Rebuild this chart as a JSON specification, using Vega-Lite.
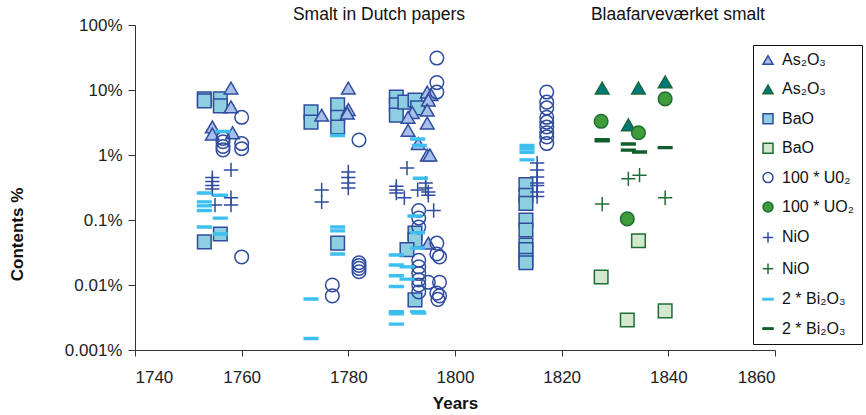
{
  "$schema": "https://vega.github.io/schema/vega-lite/v6.json",
  "width": 640,
  "height": 325,
  "autosize": {"type": "none"},
  "padding": {"left": 135, "top": 25, "right": 91, "bottom": 65},
  "background": "white",
  "config": {
    "view": {"stroke": null},
    "font": "Liberation Sans",
    "axis": {
      "grid": false,
      "domainColor": "#333",
      "tickColor": "#333",
      "labelColor": "#222",
      "titleColor": "#111",
      "labelFont": "Liberation Sans",
      "titleFont": "Liberation Sans",
      "labelFontSize": 17,
      "titleFontSize": 17,
      "titleFontWeight": "bold",
      "tickSize": 6
    }
  },
  "datasets": {
    "contents": [
      {"series": "BaO (Dutch papers)", "year": 1753, "pct": 7.3},
      {"series": "BaO (Dutch papers)", "year": 1753, "pct": 6.8},
      {"series": "BaO (Dutch papers)", "year": 1753, "pct": 0.046},
      {"series": "BaO (Dutch papers)", "year": 1756, "pct": 7.3},
      {"series": "BaO (Dutch papers)", "year": 1756, "pct": 5.7},
      {"series": "BaO (Dutch papers)", "year": 1756, "pct": 0.061},
      {"series": "BaO (Dutch papers)", "year": 1773, "pct": 4.6},
      {"series": "BaO (Dutch papers)", "year": 1773, "pct": 3.2},
      {"series": "BaO (Dutch papers)", "year": 1778, "pct": 5.9},
      {"series": "BaO (Dutch papers)", "year": 1778, "pct": 3.8},
      {"series": "BaO (Dutch papers)", "year": 1778, "pct": 2.7},
      {"series": "BaO (Dutch papers)", "year": 1778, "pct": 0.044},
      {"series": "BaO (Dutch papers)", "year": 1789, "pct": 7.8},
      {"series": "BaO (Dutch papers)", "year": 1789, "pct": 5.9},
      {"series": "BaO (Dutch papers)", "year": 1789, "pct": 4.1},
      {"series": "BaO (Dutch papers)", "year": 1790.6, "pct": 6.5},
      {"series": "BaO (Dutch papers)", "year": 1792.5, "pct": 7.0},
      {"series": "BaO (Dutch papers)", "year": 1793, "pct": 5.3},
      {"series": "BaO (Dutch papers)", "year": 1792.5, "pct": 0.063},
      {"series": "BaO (Dutch papers)", "year": 1792.5, "pct": 0.049},
      {"series": "BaO (Dutch papers)", "year": 1791, "pct": 0.035},
      {"series": "BaO (Dutch papers)", "year": 1792.5, "pct": 0.0059},
      {"series": "BaO (Dutch papers)", "year": 1813.3, "pct": 0.35},
      {"series": "BaO (Dutch papers)", "year": 1813.3, "pct": 0.24},
      {"series": "BaO (Dutch papers)", "year": 1813.3, "pct": 0.18},
      {"series": "BaO (Dutch papers)", "year": 1813.3, "pct": 0.1},
      {"series": "BaO (Dutch papers)", "year": 1813.3, "pct": 0.07},
      {"series": "BaO (Dutch papers)", "year": 1813.3, "pct": 0.041},
      {"series": "BaO (Dutch papers)", "year": 1813.3, "pct": 0.035},
      {"series": "BaO (Dutch papers)", "year": 1813.3, "pct": 0.024},
      {"series": "BaO (Dutch papers)", "year": 1813.3, "pct": 0.022},
      {"series": "BaO (Blaafarveværket)", "year": 1827.4, "pct": 0.0133},
      {"series": "BaO (Blaafarveværket)", "year": 1832.3, "pct": 0.0029},
      {"series": "BaO (Blaafarveværket)", "year": 1834.4, "pct": 0.048},
      {"series": "BaO (Blaafarveværket)", "year": 1839.4, "pct": 0.004},
      {"series": "As₂O₃ (Dutch papers)", "year": 1758, "pct": 10.7},
      {"series": "As₂O₃ (Dutch papers)", "year": 1758, "pct": 5.5},
      {"series": "As₂O₃ (Dutch papers)", "year": 1754.5, "pct": 2.7},
      {"series": "As₂O₃ (Dutch papers)", "year": 1754.5, "pct": 2.1},
      {"series": "As₂O₃ (Dutch papers)", "year": 1758.3, "pct": 2.2},
      {"series": "As₂O₃ (Dutch papers)", "year": 1775, "pct": 4.1},
      {"series": "As₂O₃ (Dutch papers)", "year": 1780, "pct": 10.7},
      {"series": "As₂O₃ (Dutch papers)", "year": 1780, "pct": 5.0},
      {"series": "As₂O₃ (Dutch papers)", "year": 1779.8, "pct": 4.4},
      {"series": "As₂O₃ (Dutch papers)", "year": 1794.8, "pct": 9.3},
      {"series": "As₂O₃ (Dutch papers)", "year": 1795.5, "pct": 8.5},
      {"series": "As₂O₃ (Dutch papers)", "year": 1795, "pct": 7.0},
      {"series": "As₂O₃ (Dutch papers)", "year": 1794.8, "pct": 4.9},
      {"series": "As₂O₃ (Dutch papers)", "year": 1792, "pct": 4.5},
      {"series": "As₂O₃ (Dutch papers)", "year": 1791.2, "pct": 3.8},
      {"series": "As₂O₃ (Dutch papers)", "year": 1794.8, "pct": 3.1},
      {"series": "As₂O₃ (Dutch papers)", "year": 1791.2, "pct": 2.4},
      {"series": "As₂O₃ (Dutch papers)", "year": 1793.1, "pct": 1.5},
      {"series": "As₂O₃ (Dutch papers)", "year": 1794.8, "pct": 1.0},
      {"series": "As₂O₃ (Dutch papers)", "year": 1795.3, "pct": 1.0},
      {"series": "As₂O₃ (Dutch papers)", "year": 1795, "pct": 0.044},
      {"series": "As₂O₃ (Blaafarveværket)", "year": 1827.6, "pct": 10.7},
      {"series": "As₂O₃ (Blaafarveværket)", "year": 1832.5, "pct": 2.9},
      {"series": "As₂O₃ (Blaafarveværket)", "year": 1834.4, "pct": 10.7},
      {"series": "As₂O₃ (Blaafarveværket)", "year": 1839.4, "pct": 13.3},
      {"series": "100 * U0₂ (Dutch papers)", "year": 1760, "pct": 3.8},
      {"series": "100 * U0₂ (Dutch papers)", "year": 1756.5, "pct": 1.8},
      {"series": "100 * U0₂ (Dutch papers)", "year": 1756.5, "pct": 1.6},
      {"series": "100 * U0₂ (Dutch papers)", "year": 1756.5, "pct": 1.35},
      {"series": "100 * U0₂ (Dutch papers)", "year": 1756.5, "pct": 1.2},
      {"series": "100 * U0₂ (Dutch papers)", "year": 1760, "pct": 1.5},
      {"series": "100 * U0₂ (Dutch papers)", "year": 1760, "pct": 1.25},
      {"series": "100 * U0₂ (Dutch papers)", "year": 1760, "pct": 0.027},
      {"series": "100 * U0₂ (Dutch papers)", "year": 1782, "pct": 1.7},
      {"series": "100 * U0₂ (Dutch papers)", "year": 1782, "pct": 0.022},
      {"series": "100 * U0₂ (Dutch papers)", "year": 1782, "pct": 0.02},
      {"series": "100 * U0₂ (Dutch papers)", "year": 1782, "pct": 0.018},
      {"series": "100 * U0₂ (Dutch papers)", "year": 1782, "pct": 0.016},
      {"series": "100 * U0₂ (Dutch papers)", "year": 1777, "pct": 0.01},
      {"series": "100 * U0₂ (Dutch papers)", "year": 1777, "pct": 0.0068},
      {"series": "100 * U0₂ (Dutch papers)", "year": 1796.6, "pct": 31},
      {"series": "100 * U0₂ (Dutch papers)", "year": 1796.6, "pct": 13},
      {"series": "100 * U0₂ (Dutch papers)", "year": 1796.6, "pct": 9.3},
      {"series": "100 * U0₂ (Dutch papers)", "year": 1793.2, "pct": 0.14},
      {"series": "100 * U0₂ (Dutch papers)", "year": 1793.2, "pct": 0.107},
      {"series": "100 * U0₂ (Dutch papers)", "year": 1793.2, "pct": 0.078},
      {"series": "100 * U0₂ (Dutch papers)", "year": 1793.2, "pct": 0.024},
      {"series": "100 * U0₂ (Dutch papers)", "year": 1793.2, "pct": 0.019},
      {"series": "100 * U0₂ (Dutch papers)", "year": 1793.2, "pct": 0.015},
      {"series": "100 * U0₂ (Dutch papers)", "year": 1793.2, "pct": 0.012},
      {"series": "100 * U0₂ (Dutch papers)", "year": 1793.2, "pct": 0.01},
      {"series": "100 * U0₂ (Dutch papers)", "year": 1793.2, "pct": 0.0078},
      {"series": "100 * U0₂ (Dutch papers)", "year": 1796.6, "pct": 0.044},
      {"series": "100 * U0₂ (Dutch papers)", "year": 1796.6, "pct": 0.03},
      {"series": "100 * U0₂ (Dutch papers)", "year": 1797.1, "pct": 0.027},
      {"series": "100 * U0₂ (Dutch papers)", "year": 1795, "pct": 0.011},
      {"series": "100 * U0₂ (Dutch papers)", "year": 1797.1, "pct": 0.011},
      {"series": "100 * U0₂ (Dutch papers)", "year": 1796.6, "pct": 0.0075},
      {"series": "100 * U0₂ (Dutch papers)", "year": 1797.1, "pct": 0.0068},
      {"series": "100 * U0₂ (Dutch papers)", "year": 1796.8, "pct": 0.006},
      {"series": "100 * U0₂ (Dutch papers)", "year": 1817.2, "pct": 9.3},
      {"series": "100 * U0₂ (Dutch papers)", "year": 1817.2, "pct": 6.5},
      {"series": "100 * U0₂ (Dutch papers)", "year": 1817.2, "pct": 5.3},
      {"series": "100 * U0₂ (Dutch papers)", "year": 1817.2, "pct": 3.8},
      {"series": "100 * U0₂ (Dutch papers)", "year": 1817.2, "pct": 3.2},
      {"series": "100 * U0₂ (Dutch papers)", "year": 1817.2, "pct": 2.7},
      {"series": "100 * U0₂ (Dutch papers)", "year": 1817.2, "pct": 2.2},
      {"series": "100 * U0₂ (Dutch papers)", "year": 1817.2, "pct": 1.9},
      {"series": "100 * U0₂ (Dutch papers)", "year": 1817.2, "pct": 1.5},
      {"series": "100 * UO₂ (Blaafarveværket)", "year": 1827.4, "pct": 3.3},
      {"series": "100 * UO₂ (Blaafarveværket)", "year": 1832.3, "pct": 0.104},
      {"series": "100 * UO₂ (Blaafarveværket)", "year": 1834.4, "pct": 2.2},
      {"series": "100 * UO₂ (Blaafarveværket)", "year": 1839.4, "pct": 7.3},
      {"series": "NiO (Dutch papers)", "year": 1758, "pct": 0.59},
      {"series": "NiO (Dutch papers)", "year": 1754.5, "pct": 0.45},
      {"series": "NiO (Dutch papers)", "year": 1754.5, "pct": 0.39},
      {"series": "NiO (Dutch papers)", "year": 1754.5, "pct": 0.34},
      {"series": "NiO (Dutch papers)", "year": 1754.5, "pct": 0.3},
      {"series": "NiO (Dutch papers)", "year": 1755, "pct": 0.17},
      {"series": "NiO (Dutch papers)", "year": 1758, "pct": 0.22},
      {"series": "NiO (Dutch papers)", "year": 1758, "pct": 0.17},
      {"series": "NiO (Dutch papers)", "year": 1775, "pct": 0.29},
      {"series": "NiO (Dutch papers)", "year": 1775, "pct": 0.19},
      {"series": "NiO (Dutch papers)", "year": 1780, "pct": 0.55},
      {"series": "NiO (Dutch papers)", "year": 1780, "pct": 0.45},
      {"series": "NiO (Dutch papers)", "year": 1780, "pct": 0.37},
      {"series": "NiO (Dutch papers)", "year": 1780, "pct": 0.31},
      {"series": "NiO (Dutch papers)", "year": 1791, "pct": 0.63},
      {"series": "NiO (Dutch papers)", "year": 1789, "pct": 0.33},
      {"series": "NiO (Dutch papers)", "year": 1789, "pct": 0.29},
      {"series": "NiO (Dutch papers)", "year": 1789, "pct": 0.26},
      {"series": "NiO (Dutch papers)", "year": 1790.5, "pct": 0.22},
      {"series": "NiO (Dutch papers)", "year": 1793, "pct": 0.29},
      {"series": "NiO (Dutch papers)", "year": 1794.5, "pct": 0.37},
      {"series": "NiO (Dutch papers)", "year": 1794.5, "pct": 0.31},
      {"series": "NiO (Dutch papers)", "year": 1795, "pct": 0.27},
      {"series": "NiO (Dutch papers)", "year": 1795, "pct": 0.24},
      {"series": "NiO (Dutch papers)", "year": 1796, "pct": 0.14},
      {"series": "NiO (Dutch papers)", "year": 1815.4, "pct": 0.75},
      {"series": "NiO (Dutch papers)", "year": 1815.4, "pct": 0.59},
      {"series": "NiO (Dutch papers)", "year": 1815.4, "pct": 0.46},
      {"series": "NiO (Dutch papers)", "year": 1815.4, "pct": 0.37},
      {"series": "NiO (Dutch papers)", "year": 1815.4, "pct": 0.34},
      {"series": "NiO (Dutch papers)", "year": 1815.4, "pct": 0.27},
      {"series": "NiO (Dutch papers)", "year": 1815.4, "pct": 0.23},
      {"series": "NiO (Blaafarveværket)", "year": 1827.6, "pct": 0.176},
      {"series": "NiO (Blaafarveværket)", "year": 1832.5, "pct": 0.43},
      {"series": "NiO (Blaafarveværket)", "year": 1834.6, "pct": 0.49},
      {"series": "NiO (Blaafarveværket)", "year": 1839.4, "pct": 0.22},
      {"series": "2 * Bi₂O₃ (Dutch papers)", "year": 1756.5, "pct": 2.3},
      {"series": "2 * Bi₂O₃ (Dutch papers)", "year": 1753, "pct": 0.26},
      {"series": "2 * Bi₂O₃ (Dutch papers)", "year": 1753, "pct": 0.19},
      {"series": "2 * Bi₂O₃ (Dutch papers)", "year": 1753, "pct": 0.165},
      {"series": "2 * Bi₂O₃ (Dutch papers)", "year": 1753, "pct": 0.14},
      {"series": "2 * Bi₂O₃ (Dutch papers)", "year": 1756, "pct": 0.24},
      {"series": "2 * Bi₂O₃ (Dutch papers)", "year": 1756, "pct": 0.107},
      {"series": "2 * Bi₂O₃ (Dutch papers)", "year": 1753, "pct": 0.078},
      {"series": "2 * Bi₂O₃ (Dutch papers)", "year": 1756, "pct": 0.061},
      {"series": "2 * Bi₂O₃ (Dutch papers)", "year": 1778, "pct": 2.0},
      {"series": "2 * Bi₂O₃ (Dutch papers)", "year": 1778, "pct": 0.078},
      {"series": "2 * Bi₂O₃ (Dutch papers)", "year": 1778, "pct": 0.068},
      {"series": "2 * Bi₂O₃ (Dutch papers)", "year": 1778, "pct": 0.03},
      {"series": "2 * Bi₂O₃ (Dutch papers)", "year": 1773, "pct": 0.0061},
      {"series": "2 * Bi₂O₃ (Dutch papers)", "year": 1773, "pct": 0.0015},
      {"series": "2 * Bi₂O₃ (Dutch papers)", "year": 1793, "pct": 1.76},
      {"series": "2 * Bi₂O₃ (Dutch papers)", "year": 1793.3, "pct": 1.4},
      {"series": "2 * Bi₂O₃ (Dutch papers)", "year": 1793.5, "pct": 0.44},
      {"series": "2 * Bi₂O₃ (Dutch papers)", "year": 1792.5, "pct": 0.115},
      {"series": "2 * Bi₂O₃ (Dutch papers)", "year": 1793, "pct": 0.064},
      {"series": "2 * Bi₂O₃ (Dutch papers)", "year": 1793, "pct": 0.037},
      {"series": "2 * Bi₂O₃ (Dutch papers)", "year": 1789, "pct": 0.029},
      {"series": "2 * Bi₂O₃ (Dutch papers)", "year": 1789, "pct": 0.0203},
      {"series": "2 * Bi₂O₃ (Dutch papers)", "year": 1791, "pct": 0.019},
      {"series": "2 * Bi₂O₃ (Dutch papers)", "year": 1789, "pct": 0.0139},
      {"series": "2 * Bi₂O₃ (Dutch papers)", "year": 1791, "pct": 0.0123},
      {"series": "2 * Bi₂O₃ (Dutch papers)", "year": 1789, "pct": 0.0095},
      {"series": "2 * Bi₂O₃ (Dutch papers)", "year": 1789, "pct": 0.0039},
      {"series": "2 * Bi₂O₃ (Dutch papers)", "year": 1789, "pct": 0.0036},
      {"series": "2 * Bi₂O₃ (Dutch papers)", "year": 1793, "pct": 0.0039},
      {"series": "2 * Bi₂O₃ (Dutch papers)", "year": 1793.2, "pct": 0.0037},
      {"series": "2 * Bi₂O₃ (Dutch papers)", "year": 1789, "pct": 0.0025},
      {"series": "2 * Bi₂O₃ (Dutch papers)", "year": 1813.5, "pct": 1.4},
      {"series": "2 * Bi₂O₃ (Dutch papers)", "year": 1813.5, "pct": 1.25},
      {"series": "2 * Bi₂O₃ (Dutch papers)", "year": 1813.5, "pct": 1.1},
      {"series": "2 * Bi₂O₃ (Dutch papers)", "year": 1813.5, "pct": 0.84},
      {"series": "2 * Bi₂O₃ (Blaafarveværket)", "year": 1827.6, "pct": 1.72},
      {"series": "2 * Bi₂O₃ (Blaafarveværket)", "year": 1827.6, "pct": 1.65},
      {"series": "2 * Bi₂O₃ (Blaafarveværket)", "year": 1832.5, "pct": 1.48},
      {"series": "2 * Bi₂O₃ (Blaafarveværket)", "year": 1832.5, "pct": 1.19},
      {"series": "2 * Bi₂O₃ (Blaafarveværket)", "year": 1834.6, "pct": 1.11},
      {"series": "2 * Bi₂O₃ (Blaafarveværket)", "year": 1839.4, "pct": 1.3}
    ],
    "headings": [
      {"label": "Smalt in Dutch papers", "year": 1785.75, "pct": 100},
      {"label": "Blaafarveværket smalt", "year": 1841.8, "pct": 100}
    ]
  },
  "layer": [
    {
      "data": {"name": "contents"},
      "mark": {"type": "point", "filled": true, "opacity": 1, "strokeWidth": 1.5, "size": 185},
      "encoding": {
        "x": {
          "field": "year",
          "type": "quantitative",
          "scale": {"domain": [1740, 1860], "nice": false, "zero": false},
          "axis": {
            "title": "Years",
            "values": [1740, 1760, 1780, 1800, 1820, 1840, 1860],
            "format": "d",
            "labelPadding": 13,
            "titleY": 53,
            "titleBaseline": "middle"
          }
        },
        "y": {
          "field": "pct",
          "type": "quantitative",
          "scale": {"type": "log", "domain": [0.001, 100], "nice": false},
          "axis": {
            "title": "Contents %",
            "values": [0.001, 0.01, 0.1, 1, 10, 100],
            "labelExpr": "datum.value + '%'",
            "tickSize": 7,
            "labelPadding": 6,
            "titleX": -118,
            "titleY": 209,
            "titleBaseline": "middle",
            "titleAlign": "center"
          }
        },
        "shape": {
          "field": "series",
          "type": "nominal",
          "scale": {
            "domain": ["As₂O₃ (Dutch papers)", "As₂O₃ (Blaafarveværket)", "BaO (Dutch papers)", "BaO (Blaafarveværket)", "100 * U0₂ (Dutch papers)", "100 * UO₂ (Blaafarveværket)", "NiO (Dutch papers)", "NiO (Blaafarveværket)", "2 * Bi₂O₃ (Dutch papers)", "2 * Bi₂O₃ (Blaafarveværket)"],
            "range": ["triangle-up", "triangle-up", "square", "square", "circle", "circle", "M-1.05,0H1.05M0,-1.05V1.05", "M-1.05,0H1.05M0,-1.05V1.05", "M-1,-0.14H1V0.14H-1Z", "M-1,-0.14H1V0.14H-1Z"]
          },
          "legend": {
            "title": null,
            "orient": "none",
            "legendX": 618,
            "legendY": 20,
            "padding": 7,
            "strokeColor": "#111",
            "fillColor": "white",
            "labelFont": "Liberation Sans",
            "labelFontSize": 16,
            "labelColor": "#111",
            "labelOffset": 6,
            "rowPadding": 13.4,
            "symbolSize": 100,
            "symbolStrokeWidth": 1.5,
            "symbolOpacity": 1,
            "labelExpr": "split(datum.label, ' (')[0]"
          }
        },
        "fill": {
          "field": "series",
          "type": "nominal",
          "scale": {
            "domain": ["As₂O₃ (Dutch papers)", "As₂O₃ (Blaafarveværket)", "BaO (Dutch papers)", "BaO (Blaafarveværket)", "100 * U0₂ (Dutch papers)", "100 * UO₂ (Blaafarveværket)", "NiO (Dutch papers)", "NiO (Blaafarveværket)", "2 * Bi₂O₃ (Dutch papers)", "2 * Bi₂O₃ (Blaafarveværket)"],
            "range": ["#a7bfe9", "#00787a", "#8dcfe0", "#d3e8cc", "transparent", "#3f9c3b", "transparent", "transparent", "#3dbff0", "#0f5f2c"]
          }
        },
        "stroke": {
          "field": "series",
          "type": "nominal",
          "scale": {
            "domain": ["As₂O₃ (Dutch papers)", "As₂O₃ (Blaafarveværket)", "BaO (Dutch papers)", "BaO (Blaafarveværket)", "100 * U0₂ (Dutch papers)", "100 * UO₂ (Blaafarveværket)", "NiO (Dutch papers)", "NiO (Blaafarveværket)", "2 * Bi₂O₃ (Dutch papers)", "2 * Bi₂O₃ (Blaafarveværket)"],
            "range": ["#2f4c9e", "#176b3a", "#2f4c9e", "#1f6e36", "#2f4c9e", "#1f6e36", "#2f4c9e", "#1f6e36", "#3dbff0", "#0f5f2c"]
          }
        }
      }
    },
    {
      "data": {"name": "headings"},
      "mark": {"type": "text", "dy": -10, "baseline": "middle", "align": "center", "fontSize": 17.5, "font": "Liberation Sans", "color": "#111"},
      "encoding": {
        "x": {"field": "year", "type": "quantitative"},
        "y": {"field": "pct", "type": "quantitative"},
        "text": {"field": "label"}
      }
    }
  ]
}
